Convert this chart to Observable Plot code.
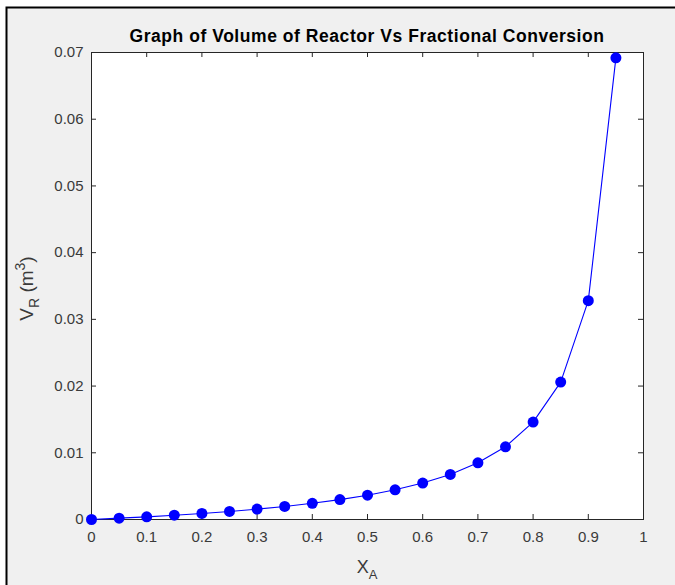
<!DOCTYPE html>
<html><head><meta charset="utf-8">
<script src="https://cdn.jsdelivr.net/npm/d3@7"></script>
<script src="https://cdn.jsdelivr.net/npm/@observablehq/plot@0.6"></script>
<style>body{margin:0;background:#fff;}</style>
</head><body><div id="chart"></div>
<script>
const conversion = [0,0.05,0.1,0.15,0.2,0.25,0.3,0.35,0.4,0.45,0.5,0.55,0.6,0.65,0.7,0.75,0.8,0.85,0.9,0.95];
const volume = [0,0.0002,0.0004,0.00064,0.00091,0.00121,0.00156,0.00196,0.00243,0.00298,0.00364,0.00445,0.00546,0.00676,0.0085,0.0109,0.0146,0.0206,0.0328,0.0692];
const xTicks = [0,0.1,0.2,0.3,0.4,0.5,0.6,0.7,0.8,0.9,1];
const xTickLabels = ["0","0.1","0.2","0.3","0.4","0.5","0.6","0.7","0.8","0.9","1"];
const yTicks = [0,0.01,0.02,0.03,0.04,0.05,0.06,0.07];
const yTickLabels = ["0","0.01","0.02","0.03","0.04","0.05","0.06","0.07"];
const titleText = "Graph of Volume of Reactor Vs Fractional Conversion";

const W = 675, H = 585, mL = 91, mR = 32, mT = 52, mB = 66;
const plotW = W - mL - mR, plotH = H - mT - mB;
const tickLen = 5;
const axisColor = "#262626";
const font = "'Liberation Sans', Arial, Helvetica, sans-serif";
const data = conversion.map((x, i) => ({x, v: volume[i]}));

const plot = Plot.plot({
  width: W, height: H,
  marginLeft: mL, marginRight: mR, marginTop: mT, marginBottom: mB,
  style: {background: "white", fontFamily: font, fontSize: "15px", color: "#3a3a3a"},
  x: {domain: [0, 1]},
  y: {domain: [0, 0.07]},
  marks: [
    Plot.frame({fill: "white", stroke: "none"}),
    Plot.tickX(xTicks, {x: d => d, insetTop: plotH - tickLen, stroke: axisColor}),
    Plot.tickX(xTicks, {x: d => d, insetBottom: plotH - tickLen, stroke: axisColor}),
    Plot.tickY(yTicks, {y: d => d, insetRight: plotW - tickLen, stroke: axisColor}),
    Plot.tickY(yTicks, {y: d => d, insetLeft: plotW - tickLen, stroke: axisColor}),
    Plot.frame({stroke: axisColor, strokeWidth: 1}),
    Plot.axisX(xTicks, {tickSize: 0, tickPadding: 12, tickFormat: d => xTickLabels[xTicks.indexOf(d)], label: null, fill: "#3a3a3a"}),
    Plot.axisY(yTicks, {tickSize: 0, tickPadding: 8, tickFormat: d => yTickLabels[yTicks.indexOf(d)], label: null, fill: "#3a3a3a"}),
    Plot.line(data, {x: "x", y: "v", stroke: "#0000ff", strokeWidth: 1.1}),
    Plot.dot(data, {x: "x", y: "v", r: 5.5, fill: "#0000ff", stroke: "none"})
  ]
});

const svg = d3.select(plot);
// outer figure background with border
svg.insert("rect", ":first-child")
  .attr("x", 6.5).attr("y", 7.5).attr("width", 700).attr("height", 600)
  .attr("fill", "#f0f0f0").attr("stroke", "#000").attr("stroke-width", 2);

// title
svg.append("text")
  .attr("x", mL + plotW / 2).attr("y", 42)
  .attr("text-anchor", "middle")
  .style("font-family", font).style("font-size", "17.5px").style("font-weight", "bold")
  .style("letter-spacing", "0.55px")
  .attr("fill", "#000")
  .text(titleText);

// x label X_A
const xl = svg.append("text")
  .attr("x", mL + plotW / 2).attr("y", 573)
  .attr("text-anchor", "middle")
  .style("font-family", font).style("font-size", "18px").attr("fill", "#3a3a3a");
xl.append("tspan").text("X");
xl.append("tspan").attr("dy", 6).style("font-size", "13px").text("A");

// y label V_R (m^3)
const yl = svg.append("text")
  .attr("transform", `translate(33,${mT + plotH / 2 + 3}) rotate(-90)`)
  .attr("text-anchor", "middle")
  .style("font-family", font).style("font-size", "19px").attr("fill", "#3a3a3a");
yl.append("tspan").text("V");
yl.append("tspan").attr("dy", 6).style("font-size", "14px").text("R");
yl.append("tspan").attr("dy", -6).text(" (m");
yl.append("tspan").attr("dy", -8).style("font-size", "14px").text("3");
yl.append("tspan").attr("dy", 8).text(")");

document.getElementById("chart").appendChild(plot);
</script>
</body></html>
